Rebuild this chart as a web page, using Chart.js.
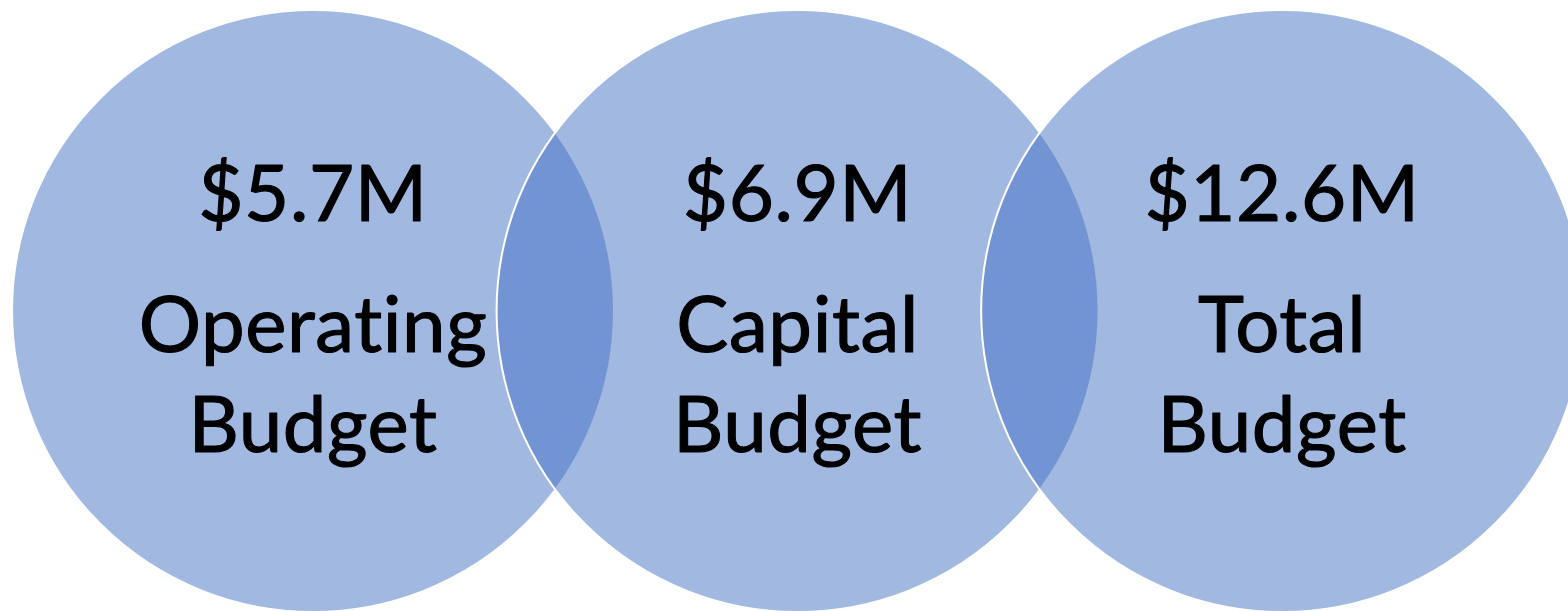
<!DOCTYPE html>
<html>
<head>
<meta charset="utf-8">
<script src="https://cdn.jsdelivr.net/npm/chart.js@4.4.1/dist/chart.umd.min.js"></script>
<style>
html,body{margin:0;padding:0;background:#ffffff;overflow:hidden;}
#wrap{position:relative;width:1568px;height:611px;}
</style>
</head>
<body>
<div id="wrap"><canvas id="c"></canvas></div>
<script>
// ---- data ----
const categories = ["Operating Budget", "Capital Budget", "Total Budget"];
const labelLines = [["Operating", "Budget"], ["Capital", "Budget"], ["Total", "Budget"]];
const budgetMillions = [5.7, 6.9, 12.6];
const circleIndex = [0, 1, 2];

const points = circleIndex.map((x, i) => ({ x: x, y: 0, label: categories[i] }));

const textPlugin = {
  id: 'circleText',
  afterDatasetsDraw(chart) {
    const ctx = chart.ctx;
    const meta = chart.getDatasetMeta(0);
    ctx.save();
    ctx.fillStyle = '#000000';
    ctx.strokeStyle = '#000000';
    ctx.lineWidth = 1.1;
    ctx.lineJoin = 'round';
    ctx.textAlign = 'center';
    ctx.textBaseline = 'alphabetic';
    ctx.font = '78px Lato';
    if ('letterSpacing' in ctx) ctx.letterSpacing = '0.6px';
    const draw = (t, x, y) => { ctx.fillText(t, x, y); ctx.strokeText(t, x, y); };
    meta.data.forEach((pt, i) => {
      const cx = pt.x, cy = pt.y;
      draw('$' + budgetMillions[i].toFixed(1) + 'M', cx, cy - 90);
      draw(labelLines[i][0], cx, cy + 41);
      draw(labelLines[i][1], cx, cy + 141);
    });
    ctx.restore();
  }
};

new Chart(document.getElementById('c'), {
  type: 'scatter',
  data: {
    datasets: [{
      label: 'Budget',
      data: points,
      pointRadius: (c) => c.chart.height * 0.4926,
      pointHoverRadius: (c) => c.chart.height * 0.4926,
      pointBackgroundColor: 'rgba(68,114,196,0.5)',
      pointBorderColor: '#ffffff',
      pointBorderWidth: 2,
      pointHoverBorderWidth: 2,
      clip: false
    }]
  },
  options: {
    responsive: true,
    maintainAspectRatio: false,
    animation: false,
    events: [],
    layout: { padding: 0, autoPadding: false },
    plugins: { legend: { display: false }, tooltip: { enabled: false } },
    scales: {
      x: { type: 'linear', display: false, min: -0.646, max: 2.590 },
      y: { type: 'linear', display: false, min: -1, max: 1.0367 }
    }
  },
  plugins: [textPlugin]
});
</script>
</body>
</html>
